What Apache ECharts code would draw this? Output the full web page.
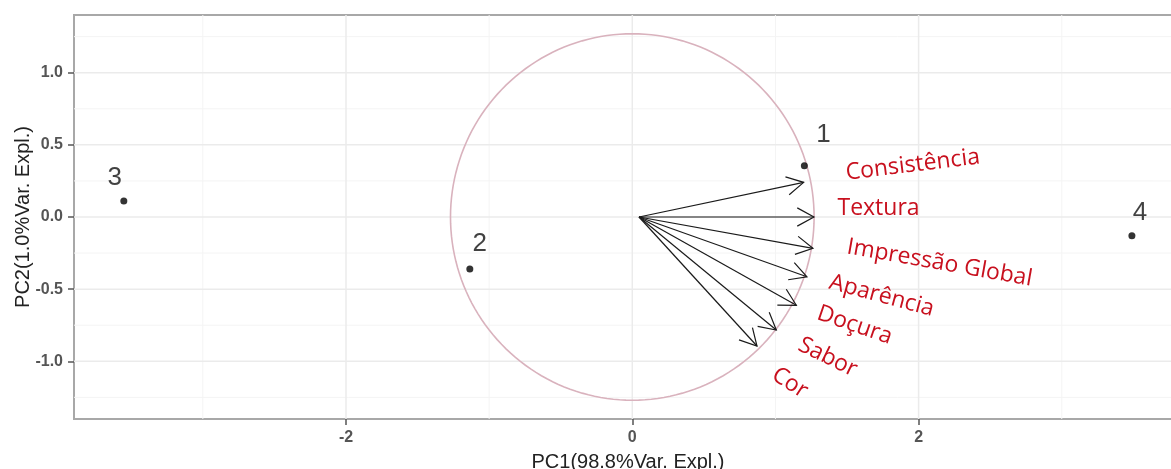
<!DOCTYPE html>
<html>
<head>
<meta charset="utf-8">
<script src="https://cdn.jsdelivr.net/npm/echarts@6/dist/echarts.min.js"></script>
<style>
  html, body { margin: 0; padding: 0; background: #fff; }
  #chart { width: 1171px; height: 469px; }
</style>
</head>
<body>
<div id="chart"></div>
<script>
// Sample scores on the first two principal components
const sampleNames = ['1', '2', '3', '4'];
const pc1Scores = [1.202, -1.135, -3.552, 3.490];
const pc2Scores = [0.356, -0.360, 0.111, -0.130];

// Attribute loadings (arrow tips) and common arrow origin
const attributes = ['Consistência', 'Textura', 'Impressão Global', 'Aparência', 'Doçura', 'Sabor', 'Cor'];
const loadingPC1 = [1.197, 1.269, 1.262, 1.220, 1.146, 1.006, 0.871];
const loadingPC2 = [0.240, 0.000, -0.217, -0.414, -0.612, -0.783, -0.894];
const arrowOrigin = [0.047, 0];

// Correlation circle radius
const circleRadius = 1.27;

// Axis ticks and grid
const xTicks = [-2, 0, 2];
const yTicks = [-1.0, -0.5, 0.0, 0.5, 1.0];
const xMinorGrid = [-3, -1, 1, 3];
const yMinorGrid = [-1.25, -0.75, -0.25, 0.25, 0.75, 1.25];

// Placement of the attribute names (data space) and their rotation in degrees
const attrLabelPlacement = [
  { at: [1.960, 0.360], rot: 7 },
  { at: [1.720, 0.062], rot: 0 },
  { at: [2.147, -0.319], rot: -10 },
  { at: [1.742, -0.547], rot: -15 },
  { at: [1.553, -0.750], rot: -19 },
  { at: [1.365, -0.972], rot: -26 },
  { at: [1.100, -1.150], rot: -33 }
];
// Pixel offsets of the sample number labels from their points
const sampleLabelOffsets = [[19, -31], [10, -25], [-9, -23], [8, -23]];

const chart = echarts.init(document.getElementById('chart'), null, { renderer: 'canvas' });

const scatterData = sampleNames.map((n, i) => ({
  name: n,
  value: [pc1Scores[i], pc2Scores[i]],
  label: { offset: sampleLabelOffsets[i] }
}));

const arrowData = attributes.map((a, i) => [arrowOrigin[0], arrowOrigin[1], loadingPC1[i], loadingPC2[i]]);
const attrLabelData = attributes.map((a, i) => [attrLabelPlacement[i].at[0], attrLabelPlacement[i].at[1], attrLabelPlacement[i].rot]);

// grid line items: [value, direction (0 = vertical, 1 = horizontal), isMajor]
const gridLineData = []
  .concat(xMinorGrid.map(v => [v, 0, 0]))
  .concat(yMinorGrid.map(v => [v, 1, 0]))
  .concat(xTicks.map(v => [v, 0, 1]))
  .concat(yTicks.map(v => [v, 1, 1]));

const axisLabelStyle = { color: '#555', fontSize: 16, fontWeight: 'bold', fontFamily: 'Liberation Sans, Arial, sans-serif' };
const axisNameStyle = { color: '#222', fontSize: 20, fontFamily: 'Liberation Sans, Arial, sans-serif' };

const option = {
  animation: false,
  grid: {
    left: 74, right: -11, top: 15, bottom: 50,
    outerBoundsMode: 'none', containLabel: false,
    show: true, backgroundColor: '#fff', borderColor: '#a8a8a8', borderWidth: 2
  },
  xAxis: {
    type: 'value', min: -3.9, max: 3.84,
    name: 'PC1(98.8%Var. Expl.)', nameLocation: 'middle', nameGap: 33, nameMoveOverlap: false,
    nameTextStyle: axisNameStyle,
    axisLine: { show: false, onZero: false },
    splitLine: { show: false },
    axisTick: { show: true, customValues: xTicks, length: 6, lineStyle: { color: '#555', width: 1.5 } },
    axisLabel: { customValues: xTicks, margin: 11, formatter: v => String(v), ...axisLabelStyle }
  },
  yAxis: {
    type: 'value', min: -1.4, max: 1.4,
    name: 'PC2(1.0%Var. Expl.)', nameLocation: 'middle', nameGap: 41, nameMoveOverlap: false,
    nameTextStyle: axisNameStyle,
    axisLine: { show: false, onZero: false },
    splitLine: { show: false },
    axisTick: { show: true, customValues: yTicks, length: 6, lineStyle: { color: '#555', width: 1.5 } },
    axisLabel: { customValues: yTicks, margin: 11, formatter: v => v.toFixed(1), ...axisLabelStyle }
  },
  series: [
    {
      // panel grid lines, major and minor
      type: 'custom', z: 1, silent: true,
      data: gridLineData,
      encode: { x: -1, y: -1 },
      renderItem: (params, api) => {
        const cs = params.coordSys;
        const v = api.value(0), horizontal = api.value(1) === 1, major = api.value(2) === 1;
        const style = { stroke: major ? '#ebebeb' : '#f4f4f4', lineWidth: major ? 1.5 : 1 };
        if (horizontal) {
          const y = api.coord([0, v])[1];
          return { type: 'line', shape: { x1: cs.x, y1: y, x2: cs.x + cs.width, y2: y }, style };
        }
        const x = api.coord([v, 0])[0];
        return { type: 'line', shape: { x1: x, y1: cs.y, x2: x, y2: cs.y + cs.height }, style };
      }
    },
    {
      // correlation circle
      type: 'custom', z: 2, silent: true,
      data: [[0, 0, circleRadius]],
      renderItem: (params, api) => {
        const cx = api.value(0), cy = api.value(1), r = api.value(2);
        const pts = [];
        for (let k = 0; k <= 180; k++) {
          const t = (k / 180) * Math.PI * 2;
          pts.push(api.coord([cx + r * Math.cos(t), cy + r * Math.sin(t)]));
        }
        return { type: 'polyline', shape: { points: pts }, style: { stroke: '#d9b2bd', lineWidth: 1.6, fill: null } };
      }
    },
    {
      // loading arrows with open heads
      type: 'custom', z: 3, silent: true,
      data: arrowData,
      encode: { x: [0, 2], y: [1, 3] },
      renderItem: (params, api) => {
        const p0 = api.coord([api.value(0), api.value(1)]);
        const p1 = api.coord([api.value(2), api.value(3)]);
        const ang = Math.atan2(p1[1] - p0[1], p1[0] - p0[0]);
        const len = 19, spread = 0.5;
        const b1 = [p1[0] - len * Math.cos(ang - spread), p1[1] - len * Math.sin(ang - spread)];
        const b2 = [p1[0] - len * Math.cos(ang + spread), p1[1] - len * Math.sin(ang + spread)];
        const st = { stroke: '#1a1a1a', lineWidth: 1.2, fill: null };
        return {
          type: 'group',
          children: [
            { type: 'line', shape: { x1: p0[0], y1: p0[1], x2: p1[0], y2: p1[1] }, style: st },
            { type: 'polyline', shape: { points: [b1, p1, b2] }, style: st }
          ]
        };
      }
    },
    {
      // attribute names
      type: 'custom', z: 4, silent: true,
      data: attrLabelData,
      renderItem: (params, api) => {
        const p = api.coord([api.value(0), api.value(1)]);
        return {
          type: 'text', x: p[0], y: p[1], rotation: api.value(2) * Math.PI / 180,
          style: {
            text: attributes[params.dataIndex], fill: '#c8101e',
            fontSize: 23, fontFamily: 'Open Sans, Noto Sans, sans-serif',
            align: 'center', verticalAlign: 'middle'
          }
        };
      }
    },
    {
      // sample scores
      type: 'scatter', z: 5, silent: true,
      symbolSize: 7, itemStyle: { color: '#000' },
      label: {
        show: true, position: 'inside', formatter: '{b}',
        color: '#111', fontSize: 26, fontFamily: 'Liberation Sans, Arial, sans-serif'
      },
      data: scatterData
    }
  ]
};

chart.setOption(option);
</script>
</body>
</html>
